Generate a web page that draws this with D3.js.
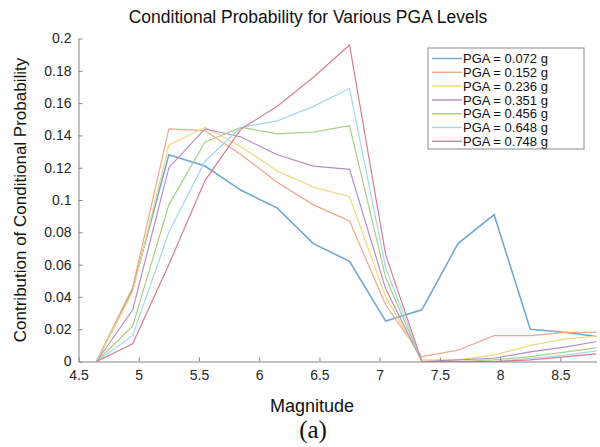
<!DOCTYPE html>
<html lang="en">
<head>
  <meta charset="UTF-8">
  <script src="https://cdn.jsdelivr.net/npm/d3@7"></script>
  <title>Conditional Probability</title>
  <style>
    body { margin: 0; background: #fff; }
    text { font-family: "Liberation Sans", Arial, sans-serif; }
  </style>
</head>
<body>
  <svg width="600" height="447"></svg>
  <script>
    // data
    var magnitudes = [4.65, 4.95, 5.25, 5.55, 5.85, 6.15, 6.45, 6.75, 7.05, 7.35, 7.65, 7.95, 8.25, 8.55, 8.85];
    var pgaLevels = ["PGA = 0.072 g", "PGA = 0.152 g", "PGA = 0.236 g", "PGA = 0.351 g", "PGA = 0.456 g", "PGA = 0.648 g", "PGA = 0.748 g"];
    var pga072 = [0, 0.045, 0.128, 0.121, 0.106, 0.095, 0.073, 0.062, 0.025, 0.032, 0.073, 0.091, 0.020, 0.018, 0.015];
    var pga152 = [0, 0.046, 0.144, 0.143, 0.128, 0.111, 0.097, 0.087, 0.035, 0.003, 0.007, 0.016, 0.016, 0.018, 0.018];
    var pga236 = [0, 0.043, 0.134, 0.145, 0.133, 0.118, 0.108, 0.102, 0.040, 0.001, 0.001, 0.004, 0.010, 0.014, 0.016];
    var pga351 = [0, 0.032, 0.120, 0.144, 0.139, 0.128, 0.121, 0.119, 0.045, 0, 0.001, 0.002, 0.006, 0.009, 0.013];
    var pga456 = [0, 0.022, 0.097, 0.136, 0.145, 0.141, 0.142, 0.146, 0.052, 0, 0, 0.001, 0.003, 0.006, 0.009];
    var pga648 = [0, 0.016, 0.080, 0.124, 0.145, 0.149, 0.158, 0.169, 0.058, 0, 0, 0, 0.002, 0.004, 0.007];
    var pga748 = [0, 0.011, 0.060, 0.112, 0.144, 0.158, 0.176, 0.196, 0.066, 0, 0, 0, 0.001, 0.003, 0.005];
    var series = [pga072, pga152, pga236, pga351, pga456, pga648, pga748];
    var xTicks = [4.5, 5, 5.5, 6, 6.5, 7, 7.5, 8, 8.5];
    var yTicks = [0, 0.02, 0.04, 0.06, 0.08, 0.1, 0.12, 0.14, 0.16, 0.18, 0.2];

    var colors = ["#6fa8d3", "#eda88e", "#f3d77e", "#b68cc6", "#aacf85", "#a2d8ee", "#d77e8e"];

    var svg = d3.select("svg");
    var x = d3.scaleLinear().domain([4.5, 8.8]).range([78.5, 596.5]);
    var y = d3.scaleLinear().domain([0, 0.2]).range([361.5, 38.5]);

    svg.append("clipPath").attr("id", "clip")
      .append("rect").attr("x", 78.5).attr("y", 30).attr("width", 518).attr("height", 335);

    // lines
    var line = d3.line()
      .x(function(d, i){ return x(magnitudes[i]) })
      .y(function(d){ return y(d) });
    var lines = svg.append("g").attr("clip-path", "url(#clip)");
    series.forEach(function(s, k){
      lines.append("path")
        .attr("d", line(s))
        .attr("fill", "none")
        .attr("stroke", colors[k])
        .attr("stroke-width", k == 0 ? 1.6 : 1.2);
    });

    // axes
    var xAxis = d3.axisBottom(x).tickValues(xTicks).tickSizeInner(-4).tickSizeOuter(0).tickPadding(9)
      .tickFormat(d3.format("~g"));
    var yAxis = d3.axisLeft(y).tickValues(yTicks).tickSizeInner(-4).tickSizeOuter(0).tickPadding(7)
      .tickFormat(d3.format("~g"));
    var gx = svg.append("g").attr("transform", "translate(0," + y(0) + ")").call(xAxis);
    var gy = svg.append("g").attr("transform", "translate(" + x(4.5) + ",0)").call(yAxis);
    [gx, gy].forEach(function(g){
      g.select(".domain").attr("stroke", "#858585");
      g.selectAll(".tick line").attr("stroke", "#858585");
      g.selectAll(".tick text").attr("fill", "#262626").style("font-size", "14px")
        .style("font-family", "'Liberation Sans', Arial, sans-serif");
    });

    // legend
    var lg = svg.append("g").attr("transform", "translate(428,48)");
    lg.append("rect").attr("width", 156).attr("height", 101)
      .attr("fill", "#fff").attr("stroke", "#8a8a8a");
    pgaLevels.forEach(function(name, k){
      var yy = 10.5 + k * 13.8;
      lg.append("line").attr("x1", 4).attr("x2", 34).attr("y1", yy).attr("y2", yy)
        .attr("stroke", colors[k]).attr("stroke-width", 1.4);
      lg.append("text").attr("x", 35).attr("y", yy + 4.7).text(name)
        .style("font-size", "13px").attr("fill", "#111");
    });

    // titles
    svg.append("text").attr("x", 308).attr("y", 23).attr("text-anchor", "middle")
      .style("font-size", "17.5px").attr("fill", "#111")
      .text("Conditional Probability for Various PGA Levels");
    svg.append("text").attr("x", 312).attr("y", 412).attr("text-anchor", "middle")
      .style("font-size", "18px").attr("fill", "#111").text("Magnitude");
    svg.append("text").attr("transform", "translate(26,200) rotate(-90)").attr("text-anchor", "middle")
      .style("font-size", "17px").attr("fill", "#111").text("Contribution of Conditional Probability");
    svg.append("text").attr("x", 313).attr("y", 438).attr("text-anchor", "middle")
      .style("font-size", "25px").style("font-family", "'Liberation Serif', 'Times New Roman', serif")
      .attr("fill", "#111").text("(a)");
  </script>
</body>
</html>
